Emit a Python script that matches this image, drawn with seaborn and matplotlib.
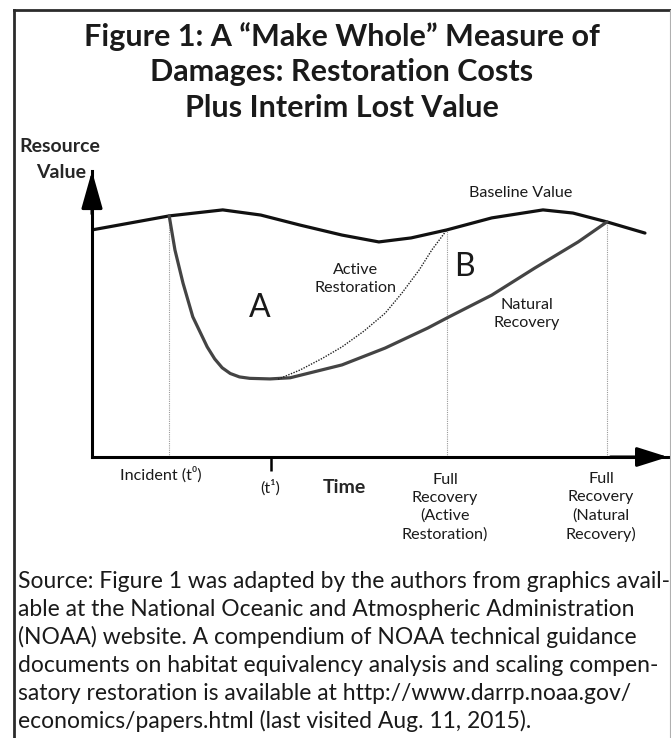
import numpy as np
import pandas as pd
import matplotlib.pyplot as plt
import seaborn as sns

# schematic units: time runs 0-100 along the x-axis, resource value 0-100 up the y-axis
baseline_t = [0, 13.4, 22.7, 29.3, 36.1, 43.4, 49.8, 55.4, 61.6, 69.4, 78.3, 83.5, 89.4, 96.0]
baseline_v = [79.4, 84.3, 86.4, 84.6, 81.1, 77.6, 75.2, 76.6, 79.4, 83.6, 86.4, 85.3, 82.2, 78.3]

natural_t = [13.4, 14.4, 15.8, 17.5, 20.0, 21.3, 22.6, 24.0, 25.6, 27.4, 30.9, 34.4,
             43.4, 50.9, 58.3, 61.6, 69.4, 76.9, 84.4, 89.4]
natural_v = [84.3, 72.4, 60.8, 49.0, 38.5, 34.3, 31.2, 29.2, 28.0, 27.5, 27.3, 27.7,
             32.2, 38.1, 45.1, 48.6, 56.6, 66.1, 75.2, 82.2]

active_t = [32.3, 36.1, 40.0, 43.4, 47.2, 50.9, 53.8, 56.8, 59.0, 61.6]
active_v = [27.2, 30.4, 34.5, 38.5, 44.0, 50.3, 57.3, 65.4, 72.4, 79.4]

# event times on the time axis
guide_t = [13.4, 61.6, 89.4]      # incident, full recovery (active), full recovery (natural)
t1_time = 31.1

title_lines = ['Figure 1: A \u201cMake Whole\u201d Measure of',
               'Damages: Restoration Costs',
               'Plus Interim Lost Value']
source_lines = ['Source: Figure 1 was adapted by the authors from graphics avail-',
                'able at the National Oceanic and Atmospheric Administration',
                '(NOAA) website. A compendium of NOAA technical guidance',
                'documents on habitat equivalency analysis and scaling compen-',
                'satory restoration is available at http://www.darrp.noaa.gov/',
                'economics/papers.html (last visited Aug. 11, 2015).']

W, H = 671, 738

sns.set_theme(style='white')
plt.rcParams['font.family'] = ['Lato', 'DejaVu Sans']

fig = plt.figure(figsize=(W / 100, H / 100), dpi=100)
fig.patch.set_facecolor('white')


def fx(px):
    return px / W


def fy(py):
    return 1 - py / H


# frame around the figure (dark left/top, thin grey right, open bottom)
fig.add_artist(plt.Line2D([fx(14), fx(14)], [fy(10), 0], color='#2b2b2b', lw=2.0, solid_capstyle='projecting'))
fig.add_artist(plt.Line2D([fx(14), fx(670)], [fy(10), fy(10)], color='#2b2b2b', lw=2.0, solid_capstyle='projecting'))
fig.add_artist(plt.Line2D([fx(670), fx(670)], [fy(10), 0], color='#b0b0b0', lw=0.8))

ax = fig.add_axes([fx(92), fy(457), fx(668) - fx(92), (457 - 171) / H])
ax.set_xlim(0, 100)
ax.set_ylim(0, 100)
ax.set_facecolor('none')

# curves
sns.lineplot(x=baseline_t, y=baseline_v, ax=ax, color='#111111', lw=2.3, estimator=None, sort=False)
sns.lineplot(x=natural_t, y=natural_v, ax=ax, color='#444444', lw=2.3, estimator=None, sort=False)
sns.lineplot(x=active_t, y=active_v, ax=ax, color='#222222', lw=1.0, ls=(0, (1, 1)), estimator=None, sort=False)

guide_top = np.interp(guide_t, baseline_t, baseline_v)
ax.vlines(guide_t, 0, guide_top, colors='#9a9a9a', lw=0.8, linestyles=(0, (1, 1)), zorder=1)

# axes with arrowheads
for side in ['top', 'right']:
    ax.spines[side].set_visible(False)
for side in ['left', 'bottom']:
    ax.spines[side].set_linewidth(2.2)
    ax.spines[side].set_color('black')
    ax.spines[side].set_capstyle('projecting')
ax.set_xticks([])
ax.set_yticks([])
ax.set_xticks([t1_time], minor=True)
ax.tick_params(axis='x', which='minor', bottom=True, length=10, width=1.8, color='black', direction='out')
ax.annotate('', xy=(0, 1), xytext=(0, 0.85), xycoords='axes fraction',
            arrowprops=dict(arrowstyle='-|>,head_length=2.3,head_width=0.65', mutation_scale=10,
                            lw=2.2, color='black', shrinkA=0, shrinkB=0))
ax.annotate('', xy=(1, 0), xytext=(0.9, 0), xycoords='axes fraction',
            arrowprops=dict(arrowstyle='-|>,head_length=1.9,head_width=0.6', mutation_scale=10,
                            lw=2.2, color='black', shrinkA=0, shrinkB=0))

# labels inside the plot
lab = dict(ha='center', va='center', fontsize=11.6, color='#1a1a1a')
ax.text(74.5, 92.3, 'Baseline Value', **lab)
ax.text(45.8, 62.2, 'Active\nRestoration', linespacing=1.3, **lab)
ax.text(75.5, 50.0, 'Natural\nRecovery', linespacing=1.3, **lab)
ax.text(29.2, 52.1, 'A', ha='center', va='center', fontsize=23, color='#1a1a1a')
ax.text(64.6, 66.4, 'B', ha='center', va='center', fontsize=23, color='#1a1a1a')

# labels under the time axis
xlab = ax.get_xaxis_transform()
ax.text(12.0, -0.063, 'Incident (t\u2070)', transform=xlab, **lab)
ax.text(30.9, -0.108, '(t\u00b9)', transform=xlab, **lab)
ax.text(43.75, -0.108, 'Time', transform=xlab, ha='center', va='center', fontsize=14, fontweight='bold')
ax.text(61.3, -0.175, 'Full\nRecovery\n(Active\nRestoration)', transform=xlab, linespacing=1.35, **lab)
ax.text(88.4, -0.175, 'Full\nRecovery\n(Natural\nRecovery)', transform=xlab, linespacing=1.35, **lab)

# y-axis name
fig.text(fx(60), fy(147), 'Resource', ha='center', va='center', fontsize=14, fontweight='bold')
fig.text(fx(61), fy(172), 'Value', ha='center', va='center', fontsize=14, fontweight='bold')

# title
for i, line in enumerate(title_lines):
    fig.text(fx(342), fy(37 + i * 35.5), line, ha='center', va='center', fontsize=22, fontweight='bold',
             color='#1a1a1a')

# source note
for i, line in enumerate(source_lines):
    fig.text(fx(18), fy(581 + i * 28), line, ha='left', va='center', fontsize=16.5, color='#1a1a1a')

fig.savefig('out.png', dpi=100)
